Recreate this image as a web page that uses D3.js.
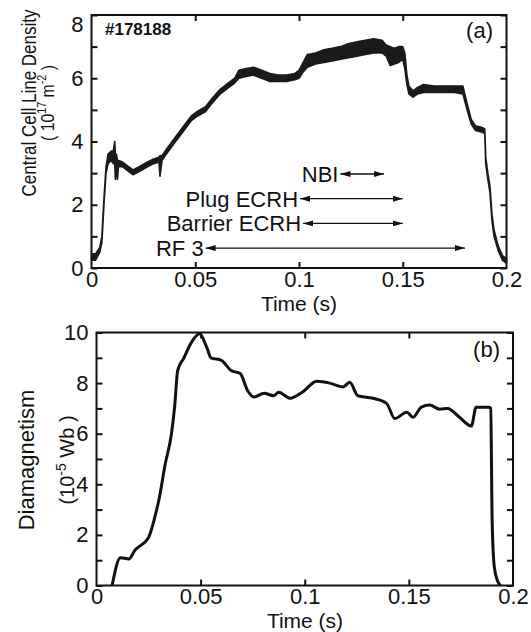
<!DOCTYPE html>
<html>
<head>
<meta charset="utf-8">
<script src="https://cdn.jsdelivr.net/npm/d3@7"></script>
<style>
  body { margin: 0; background: #fff; }
  svg { display: block; font-family: "Liberation Sans", Arial, Helvetica, sans-serif; }
  .tick text { font-size: 22px; fill: #111; }
  .tick line, .domain { stroke: #111; stroke-width: 2; }
</style>
</head>
<body>
<div id="chart"></div>
<script>
// Panel (a): central cell line density, 10^17 m^-2 (noisy band: low / high envelope)
const denTime = [0, 0.002, 0.004, 0.005, 0.006, 0.007, 0.008, 0.0095, 0.0105, 0.0112, 0.0115, 0.012,
  0.0125, 0.013, 0.015, 0.018, 0.020, 0.023, 0.027, 0.030, 0.0325, 0.033, 0.034, 0.036, 0.040, 0.044,
  0.048, 0.051, 0.055, 0.058, 0.062, 0.066, 0.069, 0.071, 0.074, 0.078, 0.082, 0.086, 0.090, 0.094,
  0.098, 0.100, 0.102, 0.104, 0.108, 0.112, 0.116, 0.120, 0.124, 0.128, 0.132, 0.136, 0.140, 0.142,
  0.144, 0.146, 0.148, 0.150, 0.151, 0.152, 0.153, 0.155, 0.157, 0.160, 0.165, 0.170, 0.175, 0.179,
  0.181, 0.183, 0.185, 0.188, 0.1895, 0.190, 0.191, 0.192, 0.193, 0.194, 0.196, 0.198, 0.200];
const denLow = [0.25, 0.25, 0.5, 0.8, 2.0, 3.0, 3.3, 3.4, 3.3, 3.3, 2.8, 3.2,
  2.8, 3.2, 3.2, 3.05, 2.95, 3.05, 3.2, 3.3, 3.35, 2.9, 3.4, 3.6, 3.95, 4.3,
  4.65, 4.8, 4.95, 5.2, 5.5, 5.7, 5.85, 6.0, 6.05, 6.1, 6.0, 5.9, 5.9, 5.9,
  5.95, 6.0, 6.2, 6.35, 6.45, 6.5, 6.55, 6.6, 6.65, 6.7, 6.75, 6.8, 6.8, 6.7,
  6.4, 6.45, 6.5, 6.6, 6.3, 5.8, 5.5, 5.4, 5.5, 5.55, 5.55, 5.55, 5.55, 5.5,
  5.0, 4.55, 4.35, 4.3, 4.25, 3.3, 2.8, 2.4, 1.5, 1.0, 0.55, 0.25, 0.15];
const denHigh = [0.45, 0.45, 0.65, 1.0, 2.2, 3.2, 3.6, 3.7, 3.7, 4.0, 3.6, 3.6,
  3.4, 3.4, 3.35, 3.2, 3.1, 3.2, 3.35, 3.45, 3.5, 3.55, 3.55, 3.75, 4.1, 4.45,
  4.8, 4.95, 5.1, 5.35, 5.65, 5.85, 6.0, 6.25, 6.3, 6.35, 6.25, 6.15, 6.1, 6.1,
  6.15, 6.25, 6.5, 6.75, 6.8, 6.9, 6.95, 7.0, 7.1, 7.15, 7.2, 7.25, 7.2, 7.05,
  7.0, 6.95, 7.0, 7.0, 6.8, 6.1, 5.75, 5.6, 5.7, 5.8, 5.75, 5.75, 5.75, 5.75,
  5.2, 4.7, 4.5, 4.45, 4.4, 3.5, 3.0, 2.6, 1.7, 1.2, 0.7, 0.4, 0.3];

// Panel (b): diamagnetism, 10^-5 Wb
const diaTime = [0.0075, 0.0115, 0.0155, 0.0185, 0.025, 0.028, 0.030, 0.033, 0.036, 0.0375, 0.039,
  0.042, 0.0455, 0.0495, 0.053, 0.055, 0.060, 0.0646, 0.069, 0.0726, 0.0756, 0.0805, 0.085, 0.0875,
  0.093, 0.0988, 0.1058, 0.112, 0.1183, 0.1216, 0.1255, 0.1327, 0.1393, 0.1432, 0.149, 0.152, 0.156,
  0.160, 0.1648, 0.1686, 0.1743, 0.180, 0.1823, 0.1885, 0.1893, 0.190, 0.191, 0.1925, 0.194];
const diaValue = [0, 1.1, 1.05, 1.4, 1.9, 2.7, 3.4, 4.8, 6.0, 7.05, 8.5,
  9.0, 9.6, 9.95, 9.4, 9.0, 8.9, 8.5, 8.38, 7.7, 7.45, 7.6, 7.5, 7.64,
  7.4, 7.64, 8.07, 8.0, 7.85, 8.03, 7.5, 7.4, 7.2, 6.6, 6.85, 6.65, 7.05,
  7.13, 6.97, 7.0, 6.65, 6.3, 7.05, 7.05, 7.0, 2.5, 0.75, 0.2, 0];

// Heating periods (s)
const heatLabels = ["NBI", "Plug ECRH", "Barrier ECRH", "RF 3"];
const heatStart = [0.12, 0.1005, 0.102, 0.055];
const heatEnd = [0.141, 0.15, 0.15, 0.18];

const timeTicks = [0, 0.05, 0.1, 0.15, 0.2];
const denTicks = [0, 2, 4, 6, 8];
const diaTicks = [0, 2, 4, 6, 8, 10];

const W = 531, H = 632;
const svg = d3.select("#chart").append("svg")
  .attr("width", W).attr("height", H);

const defs = svg.append("defs");
defs.append("marker")
  .attr("id", "head")
  .attr("viewBox", "0 0 10 6")
  .attr("refX", 10).attr("refY", 3)
  .attr("markerWidth", 10).attr("markerHeight", 6)
  .attr("markerUnits", "userSpaceOnUse")
  .attr("orient", "auto-start-reverse")
  .append("path")
  .attr("d", "M0,0L10,3L0,6Z")
  .attr("fill", "#111");

function frame(g, x, y, yMax, yLabels) {
  const [x0, x1] = x.range();
  const [y0, y1] = y.range();
  const yAll = d3.range(0, yMax + 1);
  const inner = timeTicks.slice(1, -1);

  g.append("g").attr("transform", `translate(0,${y0})`)
    .call(d3.axisBottom(x).tickValues(timeTicks).tickSize(-6).tickPadding(3)
      .tickFormat(d => d === 0 ? "0" : String(d)))
    .call(a => a.selectAll(".tick line").filter(d => d === 0 || d === 0.2).remove());
  g.append("g").attr("transform", `translate(0,${y1})`)
    .call(d3.axisTop(x).tickValues(inner).tickSize(-6).tickFormat(""));
  g.append("g").attr("transform", `translate(${x0},0)`)
    .call(d3.axisLeft(y).tickValues(yAll).tickSize(-6).tickPadding(8)
      .tickFormat(d => yLabels.includes(d) ? d : ""));
  g.append("g").attr("transform", `translate(${x1},0)`)
    .call(d3.axisRight(y).tickValues(yAll).tickSize(-6).tickFormat(""));
  g.selectAll(".domain").remove();

  g.append("rect")
    .attr("x", x0).attr("y", y1)
    .attr("width", x1 - x0).attr("height", y0 - y1)
    .attr("fill", "none").attr("stroke", "#111").attr("stroke-width", 2);
}

// squeeze a text node along its baseline to a given length
function fitWidth(sel, len) {
  const w = sel.node().getComputedTextLength();
  sel.attr("transform", `scale(${len / w},1)`);
}

// ---- Panel (a)
const xa = d3.scaleLinear().domain([0, 0.2]).range([91.5, 506.5]);
const ya = d3.scaleLinear().domain([0, 8]).range([268, 15]);
const ga = svg.append("g");
frame(ga, xa, ya, 8, denTicks);
// top label "8" sits a bit below its tick
ga.selectAll(".tick text").filter(d => d === 8).attr("dy", "0.75em");

const denData = denTime.map((t, i) => ({ t, lo: denLow[i], hi: denHigh[i] }));
ga.append("path")
  .datum(denData)
  .attr("d", d3.area().x(d => xa(d.t)).y0(d => ya(d.lo)).y1(d => ya(d.hi)))
  .attr("fill", "#1a1a1a")
  .attr("stroke", "#1a1a1a").attr("stroke-width", 1.6).attr("stroke-linejoin", "round");

// heating arrows
heatLabels.forEach((lab, i) => {
  const yy = 174 + i * 24.7;
  ga.append("line")
    .attr("x1", xa(heatStart[i])).attr("x2", xa(heatEnd[i]))
    .attr("y1", yy).attr("y2", yy)
    .attr("stroke", "#111").attr("stroke-width", 1.3)
    .attr("marker-start", "url(#head)").attr("marker-end", "url(#head)");
  ga.append("text")
    .attr("x", xa(heatStart[i]) - 2).attr("y", yy + 8)
    .attr("text-anchor", "end").attr("font-size", 22).attr("fill", "#111")
    .text(lab);
});

ga.append("text").attr("x", 105).attr("y", 35)
  .attr("font-size", 17).attr("font-weight", "bold").attr("fill", "#111").text("#178188");
ga.append("text").attr("x", 493).attr("y", 38).attr("text-anchor", "end")
  .attr("font-size", 22).attr("fill", "#111").text("(a)");
ga.append("text").attr("x", 299).attr("y", 311).attr("text-anchor", "middle")
  .attr("font-size", 21).attr("fill", "#111").text("Time (s)");

const la = ga.append("g").attr("transform", "translate(36,103) rotate(-90)");
const la1 = la.append("text").attr("text-anchor", "middle").attr("font-size", 21).attr("fill", "#111")
  .text("Central Cell Line Density");
fitWidth(la1, 187);
const la2 = la.append("text").attr("y", 18).attr("text-anchor", "middle")
  .attr("font-size", 19).attr("fill", "#111");
la2.append("tspan").text("( 10");
la2.append("tspan").attr("dy", -8).attr("font-size", 13).text("17");
la2.append("tspan").attr("dy", 8).text(" m");
la2.append("tspan").attr("dy", -8).attr("font-size", 13).text("-2");
la2.append("tspan").attr("dy", 8).text(" )");
fitWidth(la2, 76);

// ---- Panel (b)
const xb = d3.scaleLinear().domain([0, 0.2]).range([96.5, 513]);
const yb = d3.scaleLinear().domain([0, 10]).range([585.5, 332.5]);
const gb = svg.append("g");
frame(gb, xb, yb, 10, diaTicks);

gb.append("path")
  .datum(diaTime.map((t, i) => ({ t, v: diaValue[i] })))
  .attr("d", d3.line().x(d => xb(d.t)).y(d => yb(d.v)).curve(d3.curveMonotoneX))
  .attr("fill", "none").attr("stroke", "#111").attr("stroke-width", 3)
  .attr("stroke-linejoin", "round");

gb.append("text").attr("x", 500).attr("y", 357).attr("text-anchor", "end")
  .attr("font-size", 22).attr("fill", "#111").text("(b)");
gb.append("text").attr("x", 305).attr("y", 628).attr("text-anchor", "middle")
  .attr("font-size", 21).attr("fill", "#111").text("Time (s)");

const lb = gb.append("g").attr("transform", "translate(34,460) rotate(-90)");
lb.append("text").attr("text-anchor", "middle").attr("font-size", 22).attr("fill", "#111")
  .text("Diamagnetism");
const lb2 = lb.append("text").attr("y", 40).attr("text-anchor", "middle")
  .attr("font-size", 20).attr("fill", "#111");
lb2.append("tspan").text("(10");
lb2.append("tspan").attr("dy", -8).attr("font-size", 14).text("-5");
lb2.append("tspan").attr("dy", 8).text(" Wb )");
</script>
</body>
</html>
